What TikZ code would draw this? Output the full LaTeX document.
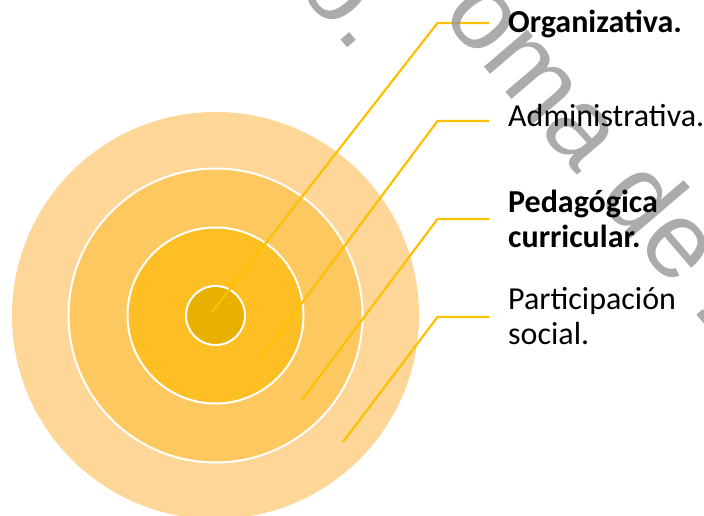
\documentclass[tikz,border=0pt]{standalone}
\usepackage{fontspec}
\setmainfont{Carlito}
\newfontfamily\wmfont{Liberation Sans}
\definecolor{ringA}{RGB}{254,214,152}
\definecolor{ringB}{RGB}{254,200,96}
\definecolor{ringC}{RGB}{254,191,36}
\definecolor{ringD}{RGB}{232,176,0}
\definecolor{leader}{RGB}{255,192,0}
\definecolor{wm}{RGB}{150,150,150}
\begin{document}
\begin{tikzpicture}[x=1pt,y=-1pt,
  ring/.style={circle, inner sep=0pt, draw=white, line width=2pt},
  leadline/.style={draw=leader, line width=2.2pt},
  lbl/.style={anchor=base west, inner sep=0pt, align=left, text=black,
    font=\fontsize{32}{35}\selectfont},
  wmark/.style={anchor=base west, inner sep=0pt, rotate=-49.5, text=wm, opacity=0.8,
    font=\wmfont\fontsize{108}{108}\selectfont}]
\clip (0,0) rectangle (704,516);
\fill[white] (0,0) rectangle (704,516);
% concentric rings
\node[circle, inner sep=0pt, fill=ringA, minimum size=407pt] (r4) at (215.5,315.5) {};
\node[ring, fill=ringB, minimum size=294pt] (r3) at (215.5,315.5) {};
\node[ring, fill=ringC, minimum size=176pt] (r2) at (215.5,315.5) {};
\node[ring, fill=ringD, minimum size=59pt] (r1) at (215.5,315.5) {};
% leader coordinates
\coordinate (s1) at (212,312);
\coordinate (c1) at (437.5,23);
\coordinate (e1) at (489,23);
\coordinate (s2) at (261,358);
\coordinate (c2) at (437.5,121);
\coordinate (e2) at (489,121);
\coordinate (s3) at (302,400);
\coordinate (c3) at (437.5,219);
\coordinate (e3) at (489,219);
\coordinate (s4) at (343,442);
\coordinate (c4) at (437.5,317);
\coordinate (e4) at (489,317);
\draw[leadline] (s1) -- (c1) -- (e1);
\draw[leadline] (s2) -- (c2) -- (e2);
\draw[leadline] (s3) -- (c3) -- (e3);
\draw[leadline] (s4) -- (c4) -- (e4);
% watermark
\node[wmark] (wm1) at (440.6,15.4) {oma de Z};
\node[wmark] (wm2) at (295.5,-13.8) {o.};
% labels
\node[lbl, font=\fontsize{32}{35}\selectfont\bfseries] (t1) at (508,33) {Organizativa.};
\node[lbl] (t2) at (508,127) {Administrativa.};
\node[lbl, font=\fontsize{32}{35}\selectfont\bfseries] (t3) at (508,247) {Pedagógica\\curricular.};
\node[lbl] (t4) at (508,344) {Participación\\social.};
\end{tikzpicture}
\end{document}
